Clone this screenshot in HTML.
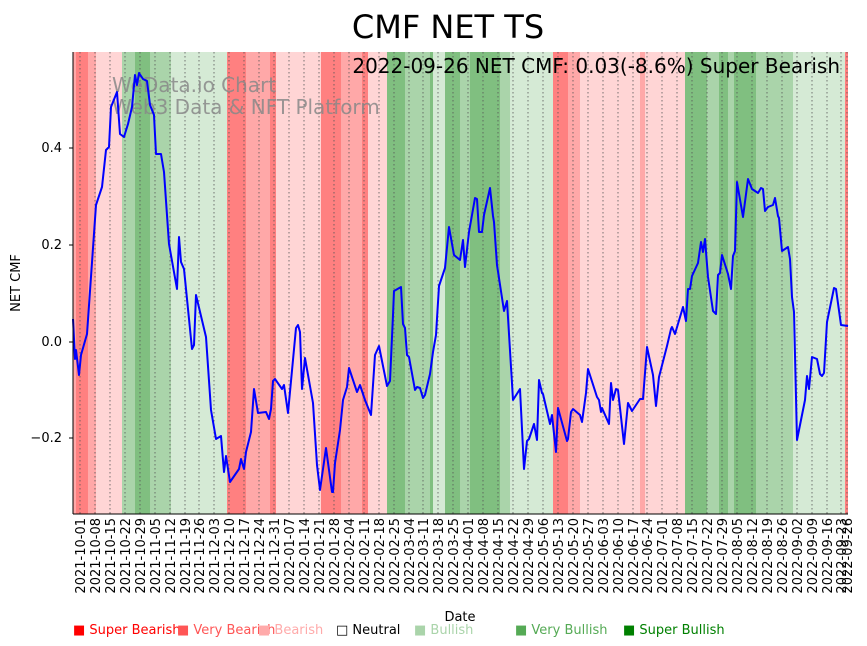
<!DOCTYPE html>
<html><head><meta charset="utf-8"><style>
body{margin:0;background:#fff;}
svg{display:block;font-family:"DejaVu Sans","Liberation Sans",sans-serif;}
</style></head><body>
<svg width="867" height="646" xmlns="http://www.w3.org/2000/svg">
<g>
<rect x="73" y="52" width="3" height="462" fill="#ffa8a8"/>
<rect x="76" y="52" width="12" height="462" fill="#ff8080"/>
<rect x="88" y="52" width="8" height="462" fill="#ffa8a8"/>
<rect x="96" y="52" width="26" height="462" fill="#ffd5d5"/>
<rect x="122" y="52" width="13" height="462" fill="#aad4aa"/>
<rect x="135" y="52" width="15" height="462" fill="#80bf80"/>
<rect x="150" y="52" width="21" height="462" fill="#aad4aa"/>
<rect x="171" y="52" width="56" height="462" fill="#d5ead5"/>
<rect x="227" y="52" width="19" height="462" fill="#ff8080"/>
<rect x="246" y="52" width="24" height="462" fill="#ffa8a8"/>
<rect x="270" y="52" width="6" height="462" fill="#ff8080"/>
<rect x="276" y="52" width="45" height="462" fill="#ffd5d5"/>
<rect x="321" y="52" width="20" height="462" fill="#ff8080"/>
<rect x="341" y="52" width="21" height="462" fill="#ffa8a8"/>
<rect x="362" y="52" width="6" height="462" fill="#ff8080"/>
<rect x="368" y="52" width="19" height="462" fill="#ffd5d5"/>
<rect x="387" y="52" width="18" height="462" fill="#80bf80"/>
<rect x="405" y="52" width="25" height="462" fill="#aad4aa"/>
<rect x="430" y="52" width="3" height="462" fill="#80bf80"/>
<rect x="433" y="52" width="12" height="462" fill="#d5ead5"/>
<rect x="445" y="52" width="15" height="462" fill="#80bf80"/>
<rect x="460" y="52" width="10" height="462" fill="#aad4aa"/>
<rect x="470" y="52" width="30" height="462" fill="#80bf80"/>
<rect x="500" y="52" width="10" height="462" fill="#aad4aa"/>
<rect x="510" y="52" width="43" height="462" fill="#d5ead5"/>
<rect x="553" y="52" width="15" height="462" fill="#ff8080"/>
<rect x="568" y="52" width="12" height="462" fill="#ffa8a8"/>
<rect x="580" y="52" width="60" height="462" fill="#ffd5d5"/>
<rect x="640" y="52" width="5" height="462" fill="#ffa8a8"/>
<rect x="645" y="52" width="40" height="462" fill="#ffd5d5"/>
<rect x="685" y="52" width="22" height="462" fill="#80bf80"/>
<rect x="707" y="52" width="12" height="462" fill="#aad4aa"/>
<rect x="719" y="52" width="9" height="462" fill="#80bf80"/>
<rect x="728" y="52" width="6" height="462" fill="#aad4aa"/>
<rect x="734" y="52" width="22" height="462" fill="#80bf80"/>
<rect x="756" y="52" width="37" height="462" fill="#aad4aa"/>
<rect x="793" y="52" width="52" height="462" fill="#d5ead5"/>
<rect x="845" y="52" width="3" height="462" fill="#ff8080"/>
</g>
<g stroke="#555" stroke-width="0.8" stroke-dasharray="1.5,2.5">
<path d="M80 52V514M95 52V514M110 52V514M125 52V514M140 52V514M155 52V514M170 52V514M185 52V514M199 52V514M214 52V514M229 52V514M244 52V514M259 52V514M274 52V514M289 52V514M304 52V514M319 52V514M334 52V514M349 52V514M364 52V514M379 52V514M394 52V514M409 52V514M423 52V514M438 52V514M453 52V514M468 52V514M483 52V514M498 52V514M513 52V514M528 52V514M543 52V514M558 52V514M573 52V514M588 52V514M603 52V514M618 52V514M633 52V514M647 52V514M662 52V514M677 52V514M692 52V514M707 52V514M722 52V514M737 52V514M752 52V514M767 52V514M782 52V514M797 52V514M812 52V514M827 52V514M841 52V514M847 52V514"/>
</g>
<text x="112" y="92" font-size="20" fill="#888" fill-opacity="0.85">WeData.io Chart</text>
<text x="112" y="114" font-size="20" fill="#888" fill-opacity="0.85">Web3 Data &amp; NFT Platform</text>
<polyline fill="none" stroke="#0000ff" stroke-width="2" stroke-linejoin="round" points="73,319 75,359 76,350 79,375 81,355 87,334 96,205 102,187 106,150 109,147 111,107 117,92 120,134 124,137 128,124 132,107 135,75 137,85 139,73 143,79 147,81 150,105 154,115 156,154 161,154 164,172 169,244 177,289 179,237 181,262 184,269 192,349 194,345 196,295 206,337 211,410 216,439 221,436 224,472 226,456 230,482 239,469 241,459 244,469 246,452 251,432 254,389 258,413 266,412 269,419 271,409 273,381 275,379 282,389 284,385 288,413 296,328 298,325 300,332 302,389 305,358 313,403 317,465 320,490 326,448 332,492 333,492 335,463 340,430 343,400 347,387 349,368 357,392 360,385 365,400 371,415 375,355 379,346 387,386 390,381 393,315 394,291 401,287 403,324 405,328 407,355 409,357 415,390 417,387 420,388 423,398 425,395 430,374 433,352 436,335 439,286 445,268 449,227 454,255 460,260 463,240 465,267 469,232 475,198 477,199 479,232 482,232 484,215 490,188 493,216 494,222 497,265 504,311 507,301 513,400 520,389 524,469 527,441 529,439 534,424 537,440 539,380 542,393 543,394 550,424 552,415 556,452 558,408 567,441 568,439 571,412 573,409 580,415 582,422 586,393 588,369 597,397 599,400 601,412 602,408 609,424 611,383 613,400 616,389 618,390 624,444 628,403 632,411 640,399 643,399 647,347 653,375 656,406 659,377 667,346 671,329 672,327 675,334 683,307 686,321 688,289 690,289 692,276 698,263 701,242 703,252 705,239 708,277 713,311 716,314 718,275 720,273 722,255 728,274 731,289 733,256 735,251 737,182 743,217 748,179 752,189 758,193 761,188 763,189 765,211 768,207 773,205 775,198 778,216 779,218 782,251 788,247 790,259 792,297 794,312 797,440 805,400 807,376 809,389 812,357 817,359 820,374 822,376 824,373 827,322 834,288 836,289 841,325 848,326"/>
<line x1="73" y1="52" x2="73" y2="514" stroke="#000" stroke-width="1"/>
<line x1="73" y1="514" x2="848" y2="514" stroke="#000" stroke-width="1"/>
<g font-size="13" fill="#000" text-anchor="end">
<text x="62" y="152">0.4</text>
<text x="62" y="249">0.2</text>
<text x="62" y="346">0.0</text>
<text x="62" y="442">−0.2</text>
</g>
<path d="M69 148H73M69 245H73M69 342H73M69 438H73" stroke="#000"/>
<text transform="translate(20,283) rotate(-90)" font-size="13" text-anchor="middle">NET CMF</text>
<text x="448" y="38" font-size="32" text-anchor="middle">CMF NET TS</text>
<text x="840" y="73" font-size="20" text-anchor="end">2022-09-26 NET CMF: 0.03(-8.6%) Super Bearish</text>
<g font-size="13" text-anchor="end">
<text transform="translate(85,518) rotate(-90)">2021-10-01</text>
<text transform="translate(100,518) rotate(-90)">2021-10-08</text>
<text transform="translate(115,518) rotate(-90)">2021-10-15</text>
<text transform="translate(130,518) rotate(-90)">2021-10-22</text>
<text transform="translate(145,518) rotate(-90)">2021-10-29</text>
<text transform="translate(160,518) rotate(-90)">2021-11-05</text>
<text transform="translate(175,518) rotate(-90)">2021-11-12</text>
<text transform="translate(190,518) rotate(-90)">2021-11-19</text>
<text transform="translate(204,518) rotate(-90)">2021-11-26</text>
<text transform="translate(219,518) rotate(-90)">2021-12-03</text>
<text transform="translate(234,518) rotate(-90)">2021-12-10</text>
<text transform="translate(249,518) rotate(-90)">2021-12-17</text>
<text transform="translate(264,518) rotate(-90)">2021-12-24</text>
<text transform="translate(279,518) rotate(-90)">2021-12-31</text>
<text transform="translate(294,518) rotate(-90)">2022-01-07</text>
<text transform="translate(309,518) rotate(-90)">2022-01-14</text>
<text transform="translate(324,518) rotate(-90)">2022-01-21</text>
<text transform="translate(339,518) rotate(-90)">2022-01-28</text>
<text transform="translate(354,518) rotate(-90)">2022-02-04</text>
<text transform="translate(369,518) rotate(-90)">2022-02-11</text>
<text transform="translate(384,518) rotate(-90)">2022-02-18</text>
<text transform="translate(399,518) rotate(-90)">2022-02-25</text>
<text transform="translate(414,518) rotate(-90)">2022-03-04</text>
<text transform="translate(428,518) rotate(-90)">2022-03-11</text>
<text transform="translate(443,518) rotate(-90)">2022-03-18</text>
<text transform="translate(458,518) rotate(-90)">2022-03-25</text>
<text transform="translate(473,518) rotate(-90)">2022-04-01</text>
<text transform="translate(488,518) rotate(-90)">2022-04-08</text>
<text transform="translate(503,518) rotate(-90)">2022-04-15</text>
<text transform="translate(518,518) rotate(-90)">2022-04-22</text>
<text transform="translate(533,518) rotate(-90)">2022-04-29</text>
<text transform="translate(548,518) rotate(-90)">2022-05-06</text>
<text transform="translate(563,518) rotate(-90)">2022-05-13</text>
<text transform="translate(578,518) rotate(-90)">2022-05-20</text>
<text transform="translate(593,518) rotate(-90)">2022-05-27</text>
<text transform="translate(608,518) rotate(-90)">2022-06-03</text>
<text transform="translate(623,518) rotate(-90)">2022-06-10</text>
<text transform="translate(638,518) rotate(-90)">2022-06-17</text>
<text transform="translate(652,518) rotate(-90)">2022-06-24</text>
<text transform="translate(667,518) rotate(-90)">2022-07-01</text>
<text transform="translate(682,518) rotate(-90)">2022-07-08</text>
<text transform="translate(697,518) rotate(-90)">2022-07-15</text>
<text transform="translate(712,518) rotate(-90)">2022-07-22</text>
<text transform="translate(727,518) rotate(-90)">2022-07-29</text>
<text transform="translate(742,518) rotate(-90)">2022-08-05</text>
<text transform="translate(757,518) rotate(-90)">2022-08-12</text>
<text transform="translate(772,518) rotate(-90)">2022-08-19</text>
<text transform="translate(787,518) rotate(-90)">2022-08-26</text>
<text transform="translate(802,518) rotate(-90)">2022-09-02</text>
<text transform="translate(817,518) rotate(-90)">2022-09-09</text>
<text transform="translate(832,518) rotate(-90)">2022-09-16</text>
<text transform="translate(846,518) rotate(-90)">2022-09-23</text>
<text transform="translate(852,518) rotate(-90)">2022-09-26</text>
</g>
<text x="460" y="621" font-size="13" text-anchor="middle">Date</text>
<g font-size="13">
<text x="73" y="634" fill="#ff0000">■ Super Bearish</text>
<text x="177" y="634" fill="#ff5555">■ Very Bearish</text>
<text x="258" y="634" fill="#ffaaaa">■ Bearish</text>
<text x="336" y="634" fill="#000">□ Neutral</text>
<text x="414" y="634" fill="#aad4aa">■ Bullish</text>
<text x="515" y="634" fill="#55aa55">■ Very Bullish</text>
<text x="623" y="634" fill="#008000">■ Super Bullish</text>
</g>
</svg>
</body></html>
